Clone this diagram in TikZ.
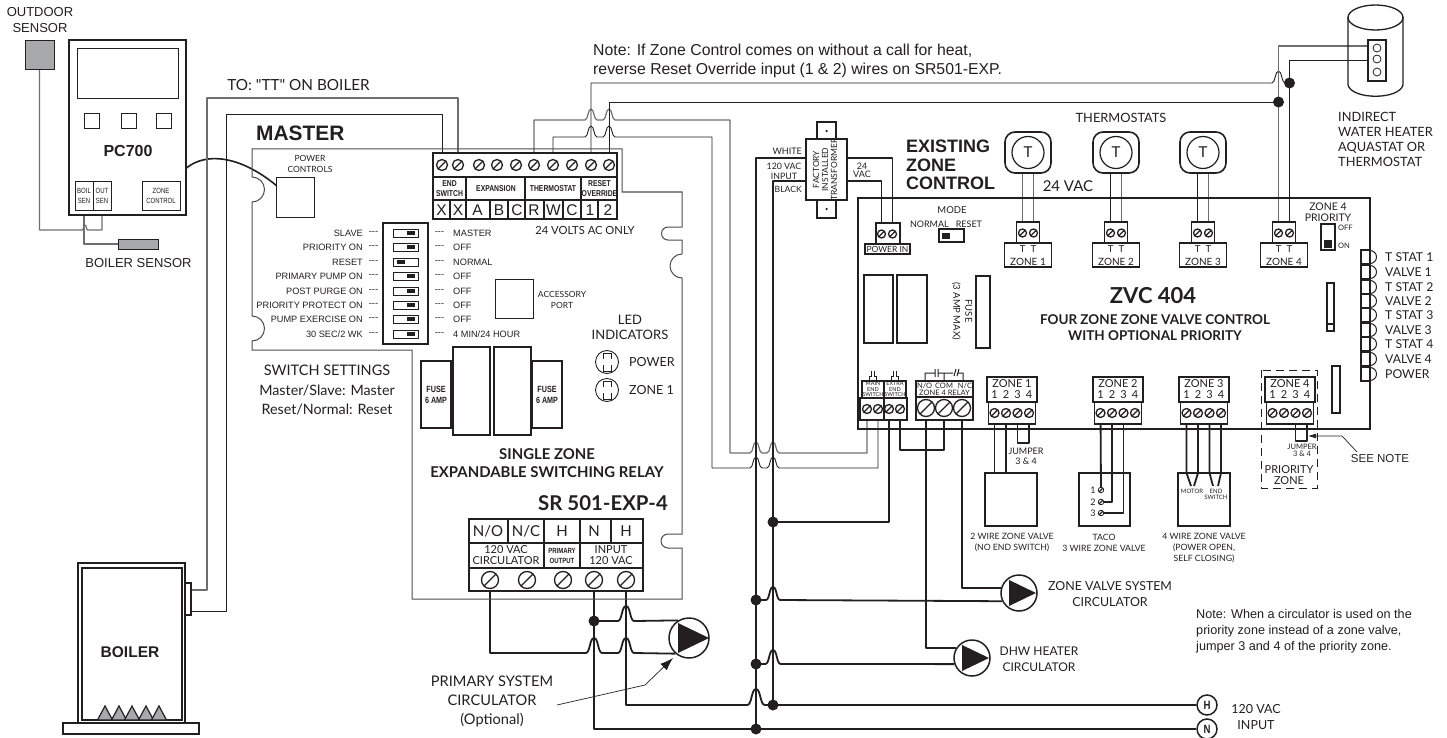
\documentclass[tikz,border=0pt]{standalone}
\usepackage{fontspec}
\setmainfont{Lato}
\newfontfamily\latoplain{Lato}
\newfontfamily\arialfont{Liberation Sans}
\newfontfamily\narrowfont[FakeStretch=0.8]{Liberation Sans}
\usetikzlibrary{calc,arrows.meta,backgrounds,shapes.geometric}
\definecolor{ink}{HTML}{231F20}
\definecolor{wiregray}{HTML}{6D6E71}
\definecolor{sensorgray}{HTML}{A7A9AC}
\newcommand{\hop}[3]{-- ({#1-0.55*#3},#2) .. controls ({#1-0.25*#3},#2) and ({#1-0.3*#3},{#2-#3}) .. (#1,{#2-#3}) .. controls ({#1+0.3*#3},{#2-#3}) and ({#1+0.25*#3},#2) .. ({#1+0.55*#3},#2)}
\newcommand{\cornerbox}[6][pbox]{\node[#1, minimum width={((#5)-(#3))*1pt}, minimum height={((#6)-(#4))*1pt}] (#2) at ({((#3)+(#5))/2},{((#4)+(#6))/2}) {};}
\tikzset{%
    txt/.style={%
        inner sep=0pt, align=center, text=ink
    },
    arial/.style 2 args={%
        txt, font=\arialfont\fontsize{#1}{#2}\selectfont
    },
    optima/.style 2 args={%
        txt, font=\fontsize{#1}{#2}\selectfont
    },
    optimab/.style 2 args={%
        txt, font=\bfseries\fontsize{#1}{#2}\selectfont
    },
    arialb/.style 2 args={%
        txt, font=\arialfont\bfseries\fontsize{#1}{#2}\selectfont
    },
    narrowb/.style 2 args={%
        txt, font=\narrowfont\bfseries\fontsize{#1}{#2}\selectfont
    },
    pbox/.style={%
        rectangle, draw=ink, line width=1.2pt, inner sep=0pt, outer sep=0pt, fill=white
    },
    pthick/.style={%
        pbox, line width=1.8pt
    },
    pthin/.style={%
        pbox, line width=0.8pt
    },
    pvalve/.style={%
        pbox, line width=1.5pt, fill=none
    },
    psensor/.style={%
        pbox, line width=0.9pt, fill=sensorgray
    },
    plain_line/.style={%
        draw=ink, line width=1.2pt
    },
    board/.style={%
        draw=ink!80, line width=1pt
    },
    wire/.style={%
        draw=ink, line width=1.8pt, line join=round
    },
    wire_thin/.style={%
        draw=ink, line width=0.9pt, line join=round
    },
    wire_gray/.style={%
        draw=wiregray, line width=1.2pt, line join=round
    },
    screw/.style={%
        circle, draw=ink, fill=white, minimum size=#1, inner sep=0pt, line width=1.3pt,
        path picture={\draw[ink, line width=1.3pt] (path picture bounding box.south west) -- (path picture bounding box.north east);}
    },
    jdot/.style={%
        circle, fill=ink, minimum size=11pt, inner sep=0pt
    },
    circ/.style={%
        circle, draw=ink, fill=white, line width=1.5pt, minimum size=#1, inner sep=0pt
    },
    toggle/.style={%
        rectangle, fill=ink, inner sep=0pt, minimum width=8pt, minimum height=3.5pt
    },
}

\begin{document}
\begin{tikzpicture}[x=1pt,y=-1pt]
      \useasboundingbox (0,0) rectangle (1447,738);

      \node[arial={13}{16}] (outdoor_txt) at (40,20) {OUTDOOR\\SENSOR};
      \cornerbox[psensor]{outdoor}{25}{40}{54}{69}
      \cornerbox[pthick]{pc700}{69}{40}{186}{215}
      \cornerbox[pthin]{display}{77}{48}{178}{98}
      \foreach \i/\xx in {1/84,2/121,3/156} {
        \cornerbox[pthin]{btn\i}{\xx}{113}{\xx+15}{128}
      }
      \node[arialb={16}{18}] (pc700_txt) at (128,151) {PC700};
      \cornerbox[pthin]{boil_sen}{75}{181}{93}{210}
      \cornerbox[pthin]{out_sen}{93}{181}{111}{210}
      \cornerbox[pthin]{zone_ctl}{142}{181}{180}{210}
      \node[narrowb={7.5}{10}, font=\narrowfont\fontsize{7.5}{10}\selectfont] (boil_txt) at (84,195.5) {BOIL\\SEN};
      \node[narrowb={7.5}{10}, font=\narrowfont\fontsize{7.5}{10}\selectfont] (out_txt) at (102,195.5) {OUT\\SEN};
      \node[narrowb={7.5}{10}, font=\narrowfont\fontsize{7.5}{10}\selectfont] (zone_ctl_txt) at (161,195.5) {ZONE\\CONTROL};
      \cornerbox[psensor]{boil_sensor}{118}{239}{158}{249}
      \node[arial={13}{16}] (boil_sensor_txt) at (138.5,263) {BOILER SENSOR};

      \node[optima={15.3}{17}, font=\latoplain\fontsize{15.3}{17}\selectfont] (tt_txt) at (298.5,85) {TO: "TT" ON BOILER};
      \cornerbox[pthick]{boiler}{78}{563}{185}{723}
      \cornerbox[pbox]{boiler_in}{82}{568}{182}{720}
      \cornerbox[pthick]{boiler_tab}{185}{583}{191}{615}
      \cornerbox[pbox]{boiler_base}{63}{723}{199}{734}
      \node[arialb={15.5}{18}] (boiler_txt) at (130,652) {BOILER};
      \foreach \xx in {105,119,132,146,159} {
        \draw[draw=ink, line width=1.2pt, fill=sensorgray] (\xx-7.5,720) -- (\xx,706) -- (\xx+7.5,720) -- cycle;
      }

      \draw[board] (252,149) -- (622,149) -- (622,192) -- (682,192) -- (682,227) -- (668,227) arc (-90:-270:6.5) -- (682,240) -- (682,254) arc (-90:-270:12) -- (682,534) -- (668,534) arc (-90:-270:7) -- (682,548) -- (682,599) -- (412,599) -- (412,350) -- (252,350) -- (252,341) arc (90:-90:12.5) -- (252,202) arc (90:-90:12.5) -- cycle;
      \node[arialb={20.9}{22}, anchor=west] (master_txt) at (256,133) {MASTER};
      \node[optima={8.5}{11}] (power_ctl_txt) at (310,163.5) {POWER\\CONTROLS};
      \cornerbox[pthin]{power_ctl}{276}{177}{314}{217}

      \cornerbox[pthick]{strip}{433}{153}{617}{219}
      \draw[plain_line] (433,177) -- (617,177) (433,200) -- (617,200);
      \draw[plain_line] (466,177) -- (466,219) (525,177) -- (525,219) (581,177) -- (581,219);
      \draw[plain_line] (450,200) -- (450,219) (490,200) -- (490,219) (508,200) -- (508,219) (544,200) -- (544,219) (563,200) -- (563,219) (598,200) -- (598,219);
      \foreach \i/\xx in {1/442,2/458,3/479,4/497,5/516,6/534,7/553,8/572,9/591,10/609} {
        \node[screw=11pt] (ts\i) at (\xx,165) {};
      }
      \node[narrowb={8.5}{10.5}] (end_txt) at (449.5,188.5) {END\\SWITCH};
      \node[narrowb={8.5}{10.5}] (exp_txt) at (496,188.5) {EXPANSION};
      \node[narrowb={8.5}{10.5}] (therm_txt) at (553,188.5) {THERMOSTAT};
      \node[narrowb={8.5}{10.5}] (reset_txt) at (599.5,188.5) {RESET\\OVERRIDE};
      \foreach \i/\xx/\lbl in {1/441.5/X,2/458/X,3/477.5/A,4/499/B,5/517/C,6/534/R,7/553.5/W,8/572/C,9/590/1,10/608/2} {
        \node[arial={15.5}{16}] (let\i) at (\xx,210) {\lbl};
      }
      \node[optima={11.2}{14}] (volts_txt) at (585,230) {24 VOLTS AC ONLY};

      \cornerbox[pbox]{dip}{383}{223}{428}{344}
      \foreach \i/\yy/\lft/\rgt/\kx in {1/233/SLAVE/MASTER/411,2/247/PRIORITY ON/OFF/411,3/262/RESET/NORMAL/401,4/276/PRIMARY PUMP ON/OFF/411,5/291/POST PURGE ON/OFF/411,6/305/PRIORITY PROTECT ON/OFF/411,7/319/PUMP EXERCISE ON/OFF/411,8/334/{30 SEC/2 WK}/{4 MIN/24 HOUR}/411} {
        \cornerbox[pthin]{sw\i}{393}{\yy-4}{418}{\yy+4}
        \node[toggle] (knob\i) at (\kx,\yy) {};
        \node[arial={9.2}{11}, anchor=east] (lft\i) at (363,\yy) {\lft};
        \node[arial={9.2}{11}] (ldash\i) at (373.5,\yy) {---};
        \node[arial={9.2}{11}] (rdash\i) at (439.5,\yy) {---};
        \node[arial={9.2}{11}, anchor=west] (rgt\i) at (453,\yy) {\rgt};
      }
      \cornerbox[pthin]{acc_port}{495}{279}{533}{318}
      \node[optima={8.5}{11}] (acc_txt) at (562,299.5) {ACCESSORY\\PORT};
      \node[optima={13}{15}] (led_txt) at (630,327.5) {LED\\INDICATORS};
      \foreach \i/\yy/\lbl in {1/362/POWER,2/390/ZONE 1} {
        \node[circle, draw=ink, line width=0.9pt, minimum size=23pt, inner sep=0pt] (led\i) at (607,\yy) {};
        \draw[draw=ink, line width=0.8pt] (603,\yy-3) -- (603,\yy-9) -- (611,\yy-9) -- (611,\yy-3) (603,\yy+3) -- (603,\yy+9) -- (611,\yy+9) -- (611,\yy+3);
        \node[optima={12.5}{14}, anchor=west] (ledtxt\i) at (629,\yy) {\lbl};
      }
      \node[optima={14.5}{17}] (sw_set_txt) at (327,370) {SWITCH SETTINGS};
      \node[optima={14.3}{19}] (sw_val_txt) at (327,400.5) {Master/Slave: Master\\Reset/Normal: Reset};
      \cornerbox[pbox]{fuse_l}{421}{361}{451}{428}
      \cornerbox[pbox]{relay_l}{453}{347}{490}{435}
      \cornerbox[pbox]{relay_r}{494}{347}{531}{435}
      \cornerbox[pbox]{fuse_r}{532}{361}{562}{428}
      \node[narrowb={9}{10.5}] (fuse_l_txt) at (436,395) {FUSE\\6 AMP};
      \node[narrowb={9}{10.5}] (fuse_r_txt) at (547,395) {FUSE\\6 AMP};
      \node[optimab={14.9}{18}] (relay_txt) at (547,463) {SINGLE ZONE\\EXPANDABLE SWITCHING RELAY};
      \node[optimab={20.4}{23}, anchor=east] (sr_txt) at (668,503) {SR 501-EXP-4};

      \cornerbox[pthick]{sr}{469}{519}{643}{591}
      \draw[plain_line] (469,543) -- (643,543) (469,568) -- (643,568);
      \draw[plain_line] (508,519) -- (508,543) (544,519) -- (544,568) (580,519) -- (580,568) (611,519) -- (611,543);
      \foreach \i/\xx in {1/490,2/527,3/563,4/594,5/626} {
        \node[screw=17pt] (sr\i) at (\xx,580) {};
      }
      \foreach \i/\xx/\lbl in {1/488/{N/O},2/526/{N/C},3/562/H,4/594/N,5/626/H} {
        \node[optima={15}{17}] (srt\i) at (\xx,531) {\lbl};
      }
      \node[optima={11}{11}] (circ_txt) at (506,555.5) {120 VAC\\CIRCULATOR};
      \node[narrowb={7.5}{10}] (prim_txt) at (562,555.5) {PRIMARY\\OUTPUT};
      \node[optima={11}{11}] (input_txt) at (611,555.5) {INPUT\\120 VAC};

      \node[circ=40pt] (pc) at (689,638) {};
      \node[circ=36pt] (zv) at (1019,593) {};
      \node[circ=36pt] (dhw) at (972,658) {};
      \fill[ink] ($(pc)+(-11,-15)$) -- ($(pc)+(20,0)$) -- ($(pc)+(-11,15)$) -- cycle;
      \fill[ink] ($(zv)+(-10,-13)$) -- ($(zv)+(17,0)$) -- ($(zv)+(-10,13)$) -- cycle;
      \fill[ink] ($(dhw)+(-10,-13)$) -- ($(dhw)+(17,0)$) -- ($(dhw)+(-10,13)$) -- cycle;
      \node[optima={14.6}{19}] (primary_txt) at (492,701) {PRIMARY SYSTEM\\CIRCULATOR\\(Optional)};
      \node[optima={12.4}{16}] (zv_txt) at (1110,594) {ZONE VALVE SYSTEM\\CIRCULATOR};
      \node[optima={12}{16}] (dhw_txt) at (1039,659) {DHW HEATER\\CIRCULATOR};
      \coordinate (pa1) at (557,705);
      \coordinate (pa2) at (645,685);
      \coordinate (pa3) at (673,658);
      \draw[draw=ink, line width=0.7pt, -{Latex[length=13pt,width=9pt]}] (pa1) -- (pa2) -- (pa3);

      \node[circ=20pt, font=\narrowfont\bfseries\fontsize{12}{12}\selectfont, text=ink] (hot) at (1207,705) {H};
      \node[circ=20pt, font=\narrowfont\bfseries\fontsize{12}{12}\selectfont, text=ink] (neutral) at (1207,729) {N};
      \node[optima={12.5}{16}] (vac_txt) at (1256,717) {120 VAC\\INPUT};
      \node[arial={12.65}{16}, align=left, anchor=west] (note_txt) at (1196,631) {Note: When a circulator is used on the\\priority zone instead of a zone valve,\\jumper 3 and 4 of the priority zone.};
      \node[arial={15.8}{19}, align=left, anchor=west] (note_top) at (593,60.5) {Note: If Zone Control comes on without a call for heat,\\reverse Reset Override input (1 \& 2) wires on SR501-EXP.};

      \cornerbox[pbox]{transf}{806}{139}{847}{200}
      \cornerbox[pbox]{tab_top}{817}{122}{836}{139}
      \cornerbox[pbox]{tab_bot}{817}{200}{836}{218}
      \node[circle, fill=ink, minimum size=2.5pt, inner sep=0pt] (tab_top_dot) at (826.5,131) {};
      \node[circle, fill=ink, minimum size=2.5pt, inner sep=0pt] (tab_bot_dot) at (826.5,209) {};
      \node[optima={8.5}{9}, rotate=90] (transf_txt) at (825,169.5) {FACTORY\\INSTALLED\\TRANSFORMER};
      \coordinate (tr_l1) at (806,158);
      \coordinate (tr_l2) at (806,181);
      \coordinate (tr_r1) at (847,158);
      \coordinate (tr_r2) at (847,181);
      \node[optima={9}{11}, anchor=east] (white_txt) at (802,151) {WHITE};
      \node[optima={8.8}{10}] (input_lbl) at (784,171) {120 VAC\\INPUT};
      \node[optima={8.6}{11}, anchor=east] (black_txt) at (802,189) {BLACK};
      \node[optima={9}{8}] (v24_txt) at (862,170.5) {24\\VAC};

      \node[arialb={18}{18.2}, align=left, anchor=west] (exist_txt) at (906,165) {EXISTING\\ZONE\\CONTROL};
      \draw[draw=ink, line width=1.3pt] (858,429) -- (858,198) -- (1370,198) -- (1370,429) -- cycle;
      \node[optima={15}{17}] (vac24_txt) at (1068,186) {24 VAC};
      \node[optima={12.8}{14}] (therms_txt) at (1121,118) {THERMOSTATS};
      \node[optima={9.5}{11}] (mode_txt) at (952,210) {MODE};
      \node[optima={9}{11}] (modes_txt) at (946,224) {NORMAL\hspace{7pt}RESET};
      \cornerbox[pbox]{mode_sw}{939}{229}{964}{242}
      \node[toggle, minimum height=6pt] (mode_knob) at (946,235.5) {};

      \cornerbox[pbox]{pw_box}{876}{223}{900}{244}
      \cornerbox[pbox]{pw_lbl}{865}{244}{910}{254}
      \node[screw=8pt] (pw1) at (881.5,234) {};
      \node[screw=8pt] (pw2) at (892.5,234) {};
      \node[optima={8.5}{10}] (pw_txt) at (887.5,249) {POWER IN};
      \cornerbox[pbox]{zvc_rel1}{864}{275}{893}{343}
      \cornerbox[pbox]{zvc_rel2}{897}{275}{927}{343}
      \cornerbox[pbox]{zvc_fuse}{976}{276}{990}{348}
      \node[optima={9.5}{12}, rotate=-90] (zvc_fuse_txt) at (962,311) {FUSE\\(3 AMP MAX)};

      \foreach \n/\xc in {1/1028,2/1116,3/1203,4/1284} {
        \cornerbox[pbox]{zs\n}{\xc-11.5}{222}{\xc+11.5}{243}
        \cornerbox[pbox]{zl\n}{\xc-23.5}{243}{\xc+23.5}{267}
        \node[screw=8pt] (za\n) at (\xc-5.5,233) {};
        \node[screw=8pt] (zb\n) at (\xc+5.5,233) {};
        \node[optima={9.5}{11}] (ztt\n) at (\xc,249) {T\hspace{5pt}T};
        \node[optima={10}{11}] (zn\n) at (\xc,261.5) {ZONE \n};
      }
      \foreach \n/\xc in {1/1028,2/1116,3/1203} {
        \node[pbox, rounded corners=10pt, line width=1.6pt, minimum width=46pt, minimum height=41pt] (th\n) at (\xc,152.5) {};
        \node[circle, draw=ink, line width=1.2pt, minimum size=32pt, inner sep=0pt, font=\fontsize{15}{15}\selectfont, text=ink] (tc\n) at (\xc,152.5) {T};
      }
      \node[optima={10.5}{11}] (prio_txt) at (1328,212.5) {ZONE 4\\PRIORITY};
      \cornerbox[pbox]{prio_sw}{1321}{224}{1335}{250}
      \cornerbox[toggle]{prio_knob}{1324}{240}{1332}{248}
      \node[optima={7.5}{9}, anchor=west] (off_txt) at (1338,228) {OFF};
      \node[optima={7.5}{9}, anchor=west] (on_txt) at (1338,246) {ON};
      \foreach \i/\yy/\lbl in {1/257/T STAT 1,2/272/VALVE 1,3/287/T STAT 2,4/301/VALVE 2,5/315/T STAT 3,6/330/VALVE 3,7/344/T STAT 4,8/359/VALVE 4,9/374/POWER} {
        \draw[draw=ink, line width=1pt] (1370,\yy-6.5) arc (-90:90:6.5);
        \cornerbox[pbox]{led_strip\i}{1361}{\yy-7}{1370}{\yy+7}
        \node[optima={12.2}{13}, anchor=west] (strip_txt\i) at (1385,\yy) {\lbl};
      }
      \node[optimab={22}{22}] (zvc_txt) at (1153,296) {ZVC 404};
      \node[optimab={13.5}{16}] (zvc_sub) at (1155,328) {FOUR ZONE ZONE VALVE CONTROL\\WITH OPTIONAL PRIORITY};
      \cornerbox[pbox]{slot_up}{1327}{283}{1334}{331}
      \draw[plain_line] (1327,324) -- (1334,324);
      \cornerbox[pbox]{slot_lo}{1332}{366}{1340}{413}

      \foreach \i/\xa/\lbl in {1/862/MAIN,2/884/EXTRA} {
        \cornerbox[pbox]{el\i}{\xa}{381}{\xa+22}{398}
        \node[optima={5.5}{5.5}] (elt\i) at (\xa+11,389.5) {\lbl\\END\\SWITCH};
        \draw[draw=ink, line width=1pt] (\xa+7,381) -- (\xa+7,376) -- (\xa+9,376) -- (\xa+9,371) (\xa+14,381) -- (\xa+14,376) -- (\xa+12,376) -- (\xa+12,371);
      }
      \cornerbox[pbox]{es_box1}{860}{398}{884}{420}
      \cornerbox[pbox]{es_box2}{884}{398}{907}{420}
      \foreach \i/\xx in {1/867,2/878,3/889,4/900} {
        \node[screw=9pt] (es\i) at (\xx,409) {};
      }
      \cornerbox[pbox]{rl_lbl}{916}{381}{973}{397}
      \cornerbox[pbox]{rl_box}{916}{397}{973}{420}
      \foreach \i/\xx in {1/926,2/944,3/962} {
        \node[screw=17pt] (rl\i) at (\xx,408) {};
      }
      \node[optima={7.5}{6.5}] (rl_txt) at (944.5,389.5) {N/O\hspace{3pt}COM\hspace{5pt}N/C\\ZONE 4 RELAY};
      \draw[draw=ink, line width=1pt] (925,381) -- (925,373) -- (935,373) (935,369) -- (935,377) (938,369) -- (938,377) (938,373) -- (953,373) (944,373) -- (944,381) (954,376) -- (956,369) (957,376) -- (959,369) (958,373) -- (963,373) -- (963,381);

      \foreach \n/\xc in {1/1012,2/1118,3/1204,4/1290} {
        \cornerbox[pbox]{bl\n}{\xc-25}{377}{\xc+25}{402}
        \cornerbox[pbox]{bb\n}{\xc-23.5}{402}{\xc+23.5}{424}
        \node[optima={11}{12}] (bln\n) at (\xc,383.5) {ZONE \n};
        \foreach \k/\dx in {1/-17.5,2/-6,3/5.5,4/17} {
          \node[screw=9pt] (bs\n-\k) at (\xc+\dx,413) {};
          \node[optima={11}{12}] (bsn\n-\k) at (\xc+\dx,395) {\k};
        }
      }
      \node[optima={9}{10}] (jmp1_txt) at (1026,456) {JUMPER\\3 \& 4};
      \node[optima={7.5}{7.5}] (jmp4_txt) at (1302,450.5) {JUMPER\\3 \& 4};
      \node[optima={11}{10.5}] (prio_zone_txt) at (1289,475) {PRIORITY\\ZONE};
      \draw[draw=ink, line width=0.8pt, dash pattern=on 8pt off 5pt] (1261,370) rectangle (1317,488);
      \node[arial={11.5}{14}] (see_note) at (1380,459) {SEE NOTE};
      \coordinate (sn1) at (1357,452);
      \coordinate (sn2) at (1342,436);
      \coordinate (sn3) at (1308,436);
      \draw[draw=ink, line width=0.7pt, -{Latex[length=8pt,width=5pt]}] (sn1) -- (sn2) -- (sn3);

      \cornerbox[pvalve]{valve1}{985}{473}{1037}{526}
      \cornerbox[pvalve]{valve2}{1079}{473}{1130}{526}
      \cornerbox[pvalve]{valve3}{1178}{473}{1230}{526}
      \node[optima={8.7}{11}] (valve1_txt) at (1012,542.5) {2 WIRE ZONE VALVE\\(NO END SWITCH)};
      \node[optima={8.7}{11}] (valve2_txt) at (1104,542.5) {TACO\\3 WIRE ZONE VALVE};
      \node[optima={8.7}{11}] (valve3_txt) at (1204,548) {4 WIRE ZONE VALVE\\(POWER OPEN,\\SELF CLOSING)};
      \foreach \i/\yy in {1/490,2/502,3/513} {
        \node[screw=5.5pt, line width=0.8pt] (tc_s\i) at (1101,\yy) {};
        \node[optima={9}{10}] (tc_t\i) at (1093,\yy) {\i};
      }
      \node[optima={6}{6}] (motor_txt) at (1192,491) {MOTOR};
      \node[optima={6}{6}] (endsw_txt) at (1216,494) {END\\SWITCH};

      \draw[draw=ink, line width=1.3pt] (1348,17) -- (1348,85) .. controls (1352,100) and (1399,100) .. (1403,85) -- (1403,17);
      \node[ellipse, draw=ink, line width=1.3pt, minimum width=55pt, minimum height=25pt, inner sep=0pt] (tank) at (1375.5,17.5) {};
      \cornerbox[pbox]{tank_p}{1368}{40}{1386}{81}
      \foreach \i/\yy in {1/48,2/59,3/72} {
        \node[circle, draw=ink, line width=0.8pt, minimum size=8pt, inner sep=0pt] (tank_c\i) at (1377,\yy) {};
      }
      \node[optima={12.8}{15}, align=left, anchor=west] (tank_txt) at (1338,139.5) {INDIRECT\\WATER HEATER\\AQUASTAT OR\\THERMOSTAT};

      \node[jdot] (dot_ov1) at (1278.5,102) {};
      \node[jdot] (dot_ov2) at (1289.5,83) {};
      \node[jdot] (dot_sw) at (773,522) {};
      \node[jdot] (dot_zv) at (756,600) {};
      \node[jdot] (dot_dhw) at (756,664) {};
      \node[jdot] (dot_h) at (773,705) {};
      \node[jdot] (dot_n) at (756,729) {};
      \node[jdot] (dot_pc) at (594,621) {};

      \coordinate (tt_end) at (191,590);
      \coordinate (tt_end2) at (191,611);
      \begin{scope}[on background layer]
        \draw[wire_gray] (outdoor.south) |- (82,230) \hop{85}{230}{5} -- (102,230) -- (out_sen.south);
        \draw[wire_gray] (boil_sen.south) |- (boil_sensor.west);
        \draw[draw=ink, line width=1.6pt] (175,183) .. controls (190,150) and (240,145) .. (295,203);
        \draw[wire_gray] (tt_end) -| (207,98) -| (ts2.center);
        \draw[wire_thin] (tt_end2) -| (226,114.5) -| (ts1.center);

        \draw[wire_gray] (ts6.center) |- (580,120) \hop{591}{120}{11} \hop{609}{120}{11} -- (730,120) -- (730,453) \hop{756}{453}{11} \hop{773}{453}{11} -- (es1 |- 0,453) -- (es1.center);
        \draw[wire_thin] (ts7.center) |- (580,137) \hop{591}{137}{11} \hop{609}{137}{11} -- (712,137) -- (712,468) \hop{756}{468}{11} \hop{773}{468}{11} -- (es2 |- 0,468) -- (es2.center);
        \draw[wire_thin] (ts9.center) |- (1270,83) \hop{1278.5}{83}{12} -- (dot_ov2.center);
        \draw[wire_thin] (ts10.center) |- (dot_ov1.center);
        \draw[wire_gray] (za4.center) |- (tank_p.west |- 0,46);
        \draw[wire_thin] (zb4.center) |- (tank_p.west |- 0,60);

        \draw[wire] (tr_l1) -| (dot_n.center);
        \draw[wire] (tr_l2) -| (dot_h.center);
        \draw[wire] (tr_r1) -| (pw2.center);
        \draw[wire] (tr_r2) -| (pw1.center);
        \draw[wire] (es3.center) |- (dot_sw.center);
        \draw[wire] (es4.center) |- (rl2.center |- 0,450) -- (rl2.center);
        \draw[wire] (rl1.center) |- (dhw.147);
        \draw[wire] (rl3.center) |- (zv.164);
        \draw[wire] (dot_zv.center) \hop{773}{600}{13} -- (zv.206);
        \draw[wire] (dot_dhw.center) \hop{773}{664}{14} -- (dhw.199);

        \draw[wire] (sr1.center) |- (580,653) \hop{594}{653}{15} \hop{626}{653}{15} -- (pc.229);
        \draw[wire] (sr4.center) |- (dot_n.center) -- (neutral);
        \draw[wire] (dot_pc.center) \hop{626}{621}{15} -- (pc.122);
        \draw[wire] (sr5.center) |- (745,705) \hop{756}{705}{16} -- (dot_h.center) -- (hot);

        \draw[wire_gray] (za1.center) -- (za1 |- th1.south);
        \draw[wire_gray] (zb1.center) -- (zb1 |- th1.south);
        \draw[wire_thin] (za2.center) -- (za2 |- th2.south);
        \draw[wire_gray] (zb2.center) -- (zb2 |- th2.south);
        \draw[wire_thin] (za3.center) -- (za3 |- th3.south);
        \draw[wire_gray] (zb3.center) -- (zb3 |- th3.south);

        \draw[wire] (bs1-1.center) -- (bs1-1 |- valve1.north);
        \draw[wire] (bs1-2.center) -- (bs1-2 |- valve1.north);
        \draw[wire] (bs1-3.center) |- (1023,443) -| (bs1-4.center);
        \draw[wire] (bs2-1.center) -- (tc_s1.center);
        \draw[wire] (bs2-2.center) |- (tc_s2.center);
        \draw[wire] (bs2-3.center) |- (tc_s3.center);
        \draw[wire] (bs3-1.center) -- (bs3-1 |- valve3.north) -- (1191,486);
        \draw[wire] (bs3-2.center) -- (bs3-2 |- valve3.north) -- (1194,486);
        \draw[wire] (bs3-3.center) -- (bs3-3 |- valve3.north) -- (1213,486);
        \draw[wire] (bs3-4.center) -- (bs3-4 |- valve3.north) -- (1218,486);
        \draw[wire] (bs4-3.center) |- (1301,441) -| (bs4-4.center);
      \end{scope}
\end{tikzpicture}
\end{document}
